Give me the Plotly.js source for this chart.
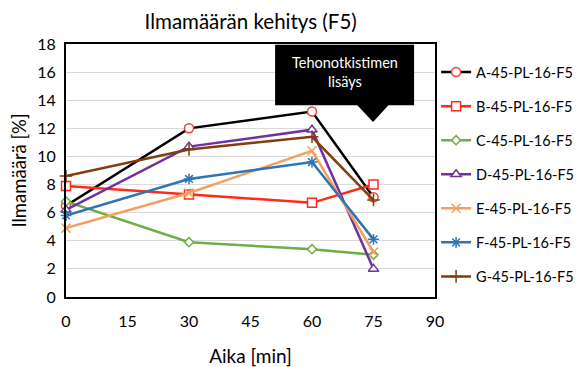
<!DOCTYPE html>
<html><head><meta charset="utf-8">
<script src="https://cdn.plot.ly/plotly-3.0.1.min.js"></script>
<style>html,body{margin:0;padding:0;background:#fff}#c{width:583px;height:367px}</style>
</head><body><div id="c"></div>
<script>
const times = [0, 30, 60, 75];
const names = ["A-45-PL-16-F5","B-45-PL-16-F5","C-45-PL-16-F5","D-45-PL-16-F5","E-45-PL-16-F5","F-45-PL-16-F5","G-45-PL-16-F5"];
const A = [6.5, 12.0, 13.2, 7.1];
const B = [7.9, 7.3, 6.7, 8.0];
const C = [6.8, 3.9, 3.4, 3.0];
const D = [6.2, 10.7, 11.9, 2.0];
const E = [4.9, 7.4, 10.4, 3.2];
const F = [5.8, 8.4, 9.6, 4.1];
const G = [8.6, 10.5, 11.4, 6.9];
const xTicks = [0, 15, 30, 45, 60, 75, 90];
const yTicks = [0, 2, 4, 6, 8, 10, 12, 14, 16, 18];

const series = [A, B, C, D, E, F, G];
const lineColors = ["#000000","#ff2a1a","#70ad47","#7030a0","#f4a060","#2e75b6","#843c0c"];
const markerColors = ["#e8412f","#ff2a1a","#70ad47","#7030a0","#f4a060","#2e75b6","#843c0c"];
const symbols = ["circle","square","diamond","triangle-up","x-thin-open","asterisk-open","cross-thin-open"];
const sizes = [9, 9, 7, 9, 9, 9, 9];

const traces = series.map((ys, i) => {
  const open = i >= 4;
  return {
    x: times, y: ys, name: names[i], type: "scatter", mode: "lines+markers",
    legendgroup: "g" + i,
    line: {color: lineColors[i], width: 2.5},
    marker: open
      ? {symbol: symbols[i], size: sizes[i], color: markerColors[i], line: {color: markerColors[i], width: 1.5}}
      : {symbol: symbols[i], size: sizes[i], color: "#ffffff", line: {color: markerColors[i], width: 1.5}},
    cliponaxis: false
  };
});

const fontFam = "Lato, 'Open Sans', sans-serif";
const layout = {
  width: 583, height: 367,
  margin: {l: 66, r: 148, t: 44, b: 70},
  paper_bgcolor: "#fff", plot_bgcolor: "#fff",
  font: {family: fontFam, color: "#000"},
  title: {text: "Ilmamäärän kehitys (F5)", font: {size: 20.5, family: fontFam}, x: 0.43, xanchor: "center", y: 0.96},
  xaxis: {
    range: [0, 90], tickvals: xTicks, ticktext: xTicks.map(String),
    showgrid: false, zeroline: false, showline: true, linecolor: "#000", linewidth: 2, mirror: true,
    ticks: "", tickfont: {size: 16}, ticklabelstandoff: 9,
    title: {text: "Aika [min]", font: {size: 19}, standoff: 20}
  },
  yaxis: {
    range: [0, 18], tickvals: yTicks, ticktext: yTicks.map(String),
    showgrid: true, gridcolor: "#d9d9d9", gridwidth: 1, zeroline: false,
    showline: true, linecolor: "#000", linewidth: 2, mirror: true,
    ticks: "", tickfont: {size: 16}, ticklabelstandoff: 5,
    title: {text: "Ilmamäärä [%]", font: {size: 18.5}, standoff: 6}
  },
  legend: {
    xref: "container", yref: "container",
    x: 0.748, xanchor: "left", y: 0.847, yanchor: "top",
    font: {size: 14.5, family: fontFam}, tracegroupgap: 12.2,
    bgcolor: "rgba(0,0,0,0)", itemwidth: 30, maxheight: 360
  },
  shapes: [
    {type: "rect", xref: "x", yref: "y", x0: 51, x1: 84.9, y0: 13.65, y1: 17.95,
     fillcolor: "#000", line: {width: 0}, layer: "above"},
    {type: "path", xref: "x", yref: "y", path: "M 70.9 13.7 L 78.8 13.7 L 74.9 12.45 Z",
     fillcolor: "#000", line: {width: 0}, layer: "above"}
  ],
  annotations: [
    {xref: "x", yref: "y", x: 67.95, y: 16.0, text: "Tehonotkistimen<br>lisäys",
     showarrow: false, font: {color: "#fff", size: 14.5, family: fontFam}, align: "center"}
  ]
};
Plotly.newPlot("c", traces, layout, {displayModeBar: false, staticPlot: true});
</script></body></html>
